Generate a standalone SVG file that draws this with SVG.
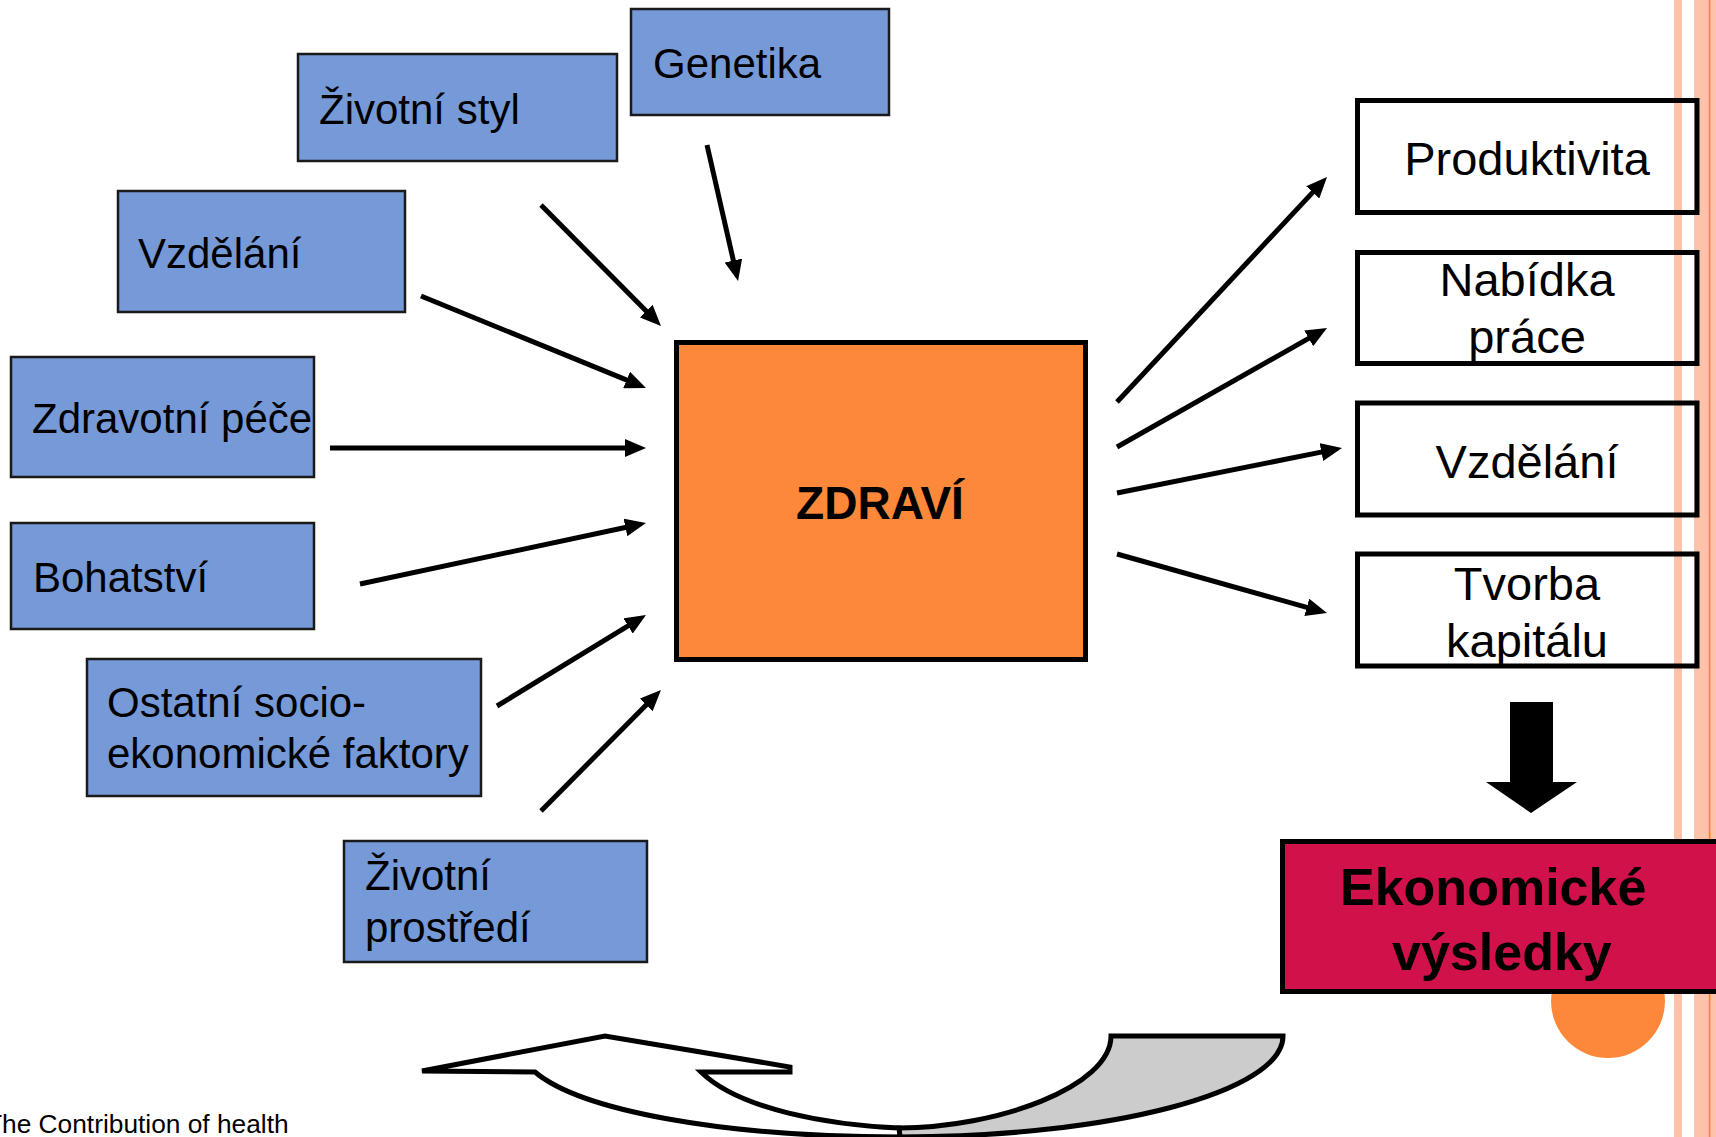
<svg xmlns="http://www.w3.org/2000/svg" width="1716" height="1137" viewBox="0 0 1716 1137">
<defs>
<style>
.in{fill:#7699D8;stroke:#1a1a1a;stroke-width:2.5}
.out{fill:none;stroke:#000;stroke-width:5}
.t{font-family:"Liberation Sans",Arial,sans-serif;font-size:42px;fill:#000}
.tr{font-family:"Liberation Sans",Arial,sans-serif;font-size:47px;fill:#000;text-anchor:middle}
.tb{font-family:"Liberation Sans",Arial,sans-serif;font-weight:bold;fill:#000}
.c{stroke:#000;stroke-width:5;fill:none;marker-end:url(#ah)}
.stripe{fill:#FCC2AA}
</style>
<marker id="ah" markerUnits="userSpaceOnUse" markerWidth="22" markerHeight="18" refX="1" refY="9" orient="auto">
<path d="M0,0 L21,9 L0,18 Z" fill="#000"/>
</marker>
</defs>
<rect width="1716" height="1137" fill="#fff"/>
<g id="decor">
<rect class="stripe" x="1674" y="0" width="8" height="1137"/>
<rect class="stripe" x="1694" y="0" width="22" height="1137"/>
<rect x="1708.8" y="0" width="1.6" height="1137" fill="#FF7F2A"/>
<circle cx="1608" cy="1001" r="57" fill="#FE8839"/>
</g>
<g id="connectors">
<line class="c" x1="707" y1="145" x2="733.6" y2="261.5"/>
<line class="c" x1="541" y1="205" x2="646.9" y2="311.8"/>
<line class="c" x1="421" y1="296" x2="627.5" y2="380.4"/>
<line class="c" x1="330" y1="448" x2="626" y2="448"/>
<line class="c" x1="360" y1="584" x2="626.4" y2="527.2"/>
<line class="c" x1="497" y1="706" x2="628.9" y2="625.4"/>
<line class="c" x1="541" y1="811" x2="646.9" y2="704.2"/>
<line class="c" x1="1117" y1="402" x2="1313.4" y2="191.6"/>
<line class="c" x1="1117" y1="447" x2="1309.6" y2="337.9"/>
<line class="c" x1="1117" y1="493" x2="1322.4" y2="451.9"/>
<line class="c" x1="1117" y1="554" x2="1307.7" y2="607.6"/>
<path id="down-arrow" d="M1510,702 L1553,702 L1553,782 L1577,782 L1531,813 L1486,782 L1510,782 Z" fill="#000"/>
<g id="curved-arrow" stroke="#000" stroke-width="5" stroke-linejoin="miter">
<path d="M1111,1036 L1283,1036 C1283,1092 1111,1137 900,1137 L899,1128 C996,1128 1111,1087 1111,1036 Z" fill="#CCCCCC"/>
<path d="M899,1128 C830,1125 740,1110 701,1072 L790,1072 L790,1067 L605,1036 L422,1071 L535,1072 C580,1110 720,1137 900,1137 Z" fill="#fff"/>
</g>
</g>
<g id="genetika">
<rect class="in" x="631" y="9" width="258" height="106"/>
<text class="t" x="653" y="78">Genetika</text>
</g>
<g id="zivotni-styl">
<rect class="in" x="298" y="54" width="319" height="107"/>
<text class="t" x="319" y="124">Životní styl</text>
</g>
<g id="vzdelani-in">
<rect class="in" x="118" y="191" width="287" height="121"/>
<text class="t" x="138" y="268">Vzdělání</text>
</g>
<g id="zdravotni-pece">
<rect class="in" x="11" y="357" width="303" height="120"/>
<text class="t" x="32" y="433">Zdravotní péče</text>
</g>
<g id="bohatstvi">
<rect class="in" x="11" y="523" width="303" height="106"/>
<text class="t" x="33" y="592">Bohatství</text>
</g>
<g id="ostatni">
<rect class="in" x="87" y="659" width="394" height="137"/>
<text class="t" x="107" y="717">Ostatní socio-</text>
<text class="t" x="107" y="768">ekonomické faktory</text>
</g>
<g id="zivotni-prostredi">
<rect class="in" x="344" y="841" width="303" height="121"/>
<text class="t" x="365" y="890">Životní</text>
<text class="t" x="365" y="942">prostředí</text>
</g>
<g id="zdravi">
<rect x="676.5" y="342.5" width="409" height="317" fill="#FE8839" stroke="#000" stroke-width="5"/>
<text class="tb" x="880" y="519" font-size="46" text-anchor="middle">ZDRAVÍ</text>
</g>
<g id="produktivita">
<rect class="out" x="1357.5" y="100.5" width="339.5" height="112"/>
<text class="tr" x="1527" y="175">Produktivita</text>
</g>
<g id="nabidka-prace">
<rect class="out" x="1357.5" y="252.5" width="339.5" height="111"/>
<text class="tr" x="1527" y="296">Nabídka</text>
<text class="tr" x="1527" y="353">práce</text>
</g>
<g id="vzdelani-out">
<rect class="out" x="1357.5" y="403" width="339.5" height="112"/>
<text class="tr" x="1527" y="478">Vzdělání</text>
</g>
<g id="tvorba-kapitalu">
<rect class="out" x="1357.5" y="554" width="339.5" height="112"/>
<text class="tr" x="1527" y="600">Tvorba</text>
<text class="tr" x="1527" y="657">kapitálu</text>
</g>
<g id="ekonomicke-vysledky">
<rect x="1282.5" y="841.5" width="460" height="150" fill="#D1124A" stroke="#000" stroke-width="5"/>
<text class="tb" x="1340" y="905" font-size="52">Ekonomické</text>
<text class="tb" x="1392" y="970" font-size="52">výsledky</text>
</g>
<g id="footer">
<text x="-14" y="1133" font-family="'Liberation Sans',Arial,sans-serif" font-size="26.3" fill="#000">The Contribution of health</text>
</g>
</svg>
